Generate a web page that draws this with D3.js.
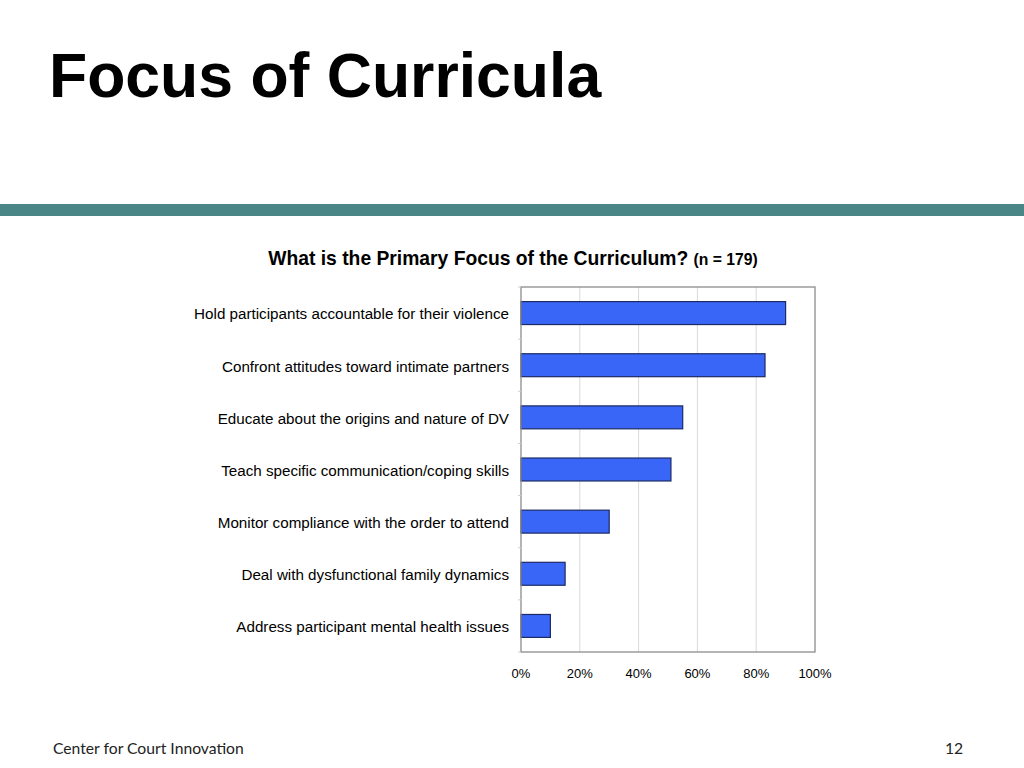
<!DOCTYPE html>
<html><head><meta charset="utf-8">
<script src="https://cdn.jsdelivr.net/npm/d3@7"></script>
<style>body{margin:0;background:#fff}svg{display:block}</style>
</head><body>
<script>
const categories = [
  "Hold participants accountable for their violence",
  "Confront attitudes toward intimate partners",
  "Educate about the origins and nature of DV",
  "Teach specific communication/coping skills",
  "Monitor compliance with the order to attend",
  "Deal with dysfunctional family dynamics",
  "Address participant mental health issues"
];
const values = [90, 83, 55, 51, 30, 15, 10];
const tickValues = [0, 20, 40, 60, 80, 100];

const svg = d3.select("body").append("svg").attr("width", 1024).attr("height", 768);
svg.append("rect").attr("width",1024).attr("height",768).attr("fill","#fff");

svg.append("text").attr("x", 49).attr("y", 97)
  .attr("font-family","Liberation Sans, Arial, sans-serif").attr("font-weight","bold")
  .attr("font-size", 62.5).attr("fill","#000").text("Focus of Curricula");

svg.append("rect").attr("x",0).attr("y",204).attr("width",1024).attr("height",12).attr("fill","#4a8686");

const t = svg.append("text").attr("x", 513).attr("y", 265).attr("text-anchor","middle")
  .attr("font-family","Liberation Sans, Arial, sans-serif").attr("font-weight","bold").attr("fill","#000");
t.append("tspan").attr("font-size", 19.3).text("What is the Primary Focus of the Curriculum? ");
t.append("tspan").attr("font-size", 15.7).text("(n = 179)");

const x0 = 521, x1 = 815, y0 = 287, y1 = 652;
const x = d3.scaleLinear().domain([0,100]).range([x0,x1]);
const y = d3.scaleBand().domain(categories).range([y0,y1]).paddingInner(0.56).paddingOuter(0.28);

const g = svg.append("g");
g.selectAll("line.grid").data(tickValues.slice(1,-1)).join("line").attr("class","grid")
  .attr("x1",d=>x(d)).attr("x2",d=>x(d)).attr("y1",y0).attr("y2",y1)
  .attr("stroke","#d9d9d9").attr("stroke-width",1);

g.selectAll("rect.bar").data(values).join("rect").attr("class","bar")
  .attr("x", x(0)).attr("y",(d,i)=>y(categories[i]))
  .attr("width", d=>x(d)-x(0)).attr("height", y.bandwidth())
  .attr("fill","#3a66f7").attr("stroke","#1c2a66").attr("stroke-width",1.2);

g.append("rect").attr("x",x0).attr("y",y0).attr("width",x1-x0).attr("height",y1-y0)
  .attr("fill","none").attr("stroke","#8c8c8c").attr("stroke-width",1.3);

const step = (y1-y0)/categories.length;
g.selectAll("line.yt").data(d3.range(categories.length+1)).join("line").attr("class","yt")
  .attr("x1",x0-3).attr("x2",x0).attr("y1",d=>y0+d*step).attr("y2",d=>y0+d*step)
  .attr("stroke","#cfcfcf");

g.selectAll("text.cat").data(categories).join("text").attr("class","cat")
  .attr("x", 509).attr("y", d=>y(d)+y.bandwidth()/2+1).attr("dy","0.35em")
  .attr("text-anchor","end").attr("font-family","Liberation Sans, Arial, sans-serif")
  .attr("font-size",15.2).attr("fill","#000").text(d=>d);

g.selectAll("text.tick").data(tickValues).join("text").attr("class","tick")
  .attr("x", d=>x(d)).attr("y", 678).attr("text-anchor","middle")
  .attr("font-family","Liberation Sans, Arial, sans-serif").attr("font-size",13).attr("fill","#000")
  .text(d=>d+"%");

svg.append("text").attr("x",53).attr("y",753.5).attr("font-family","Lato, Open Sans, sans-serif")
  .attr("font-size",15.7).attr("fill","#222").text("Center for Court Innovation");
svg.append("text").attr("x",954).attr("y",753.5).attr("text-anchor","middle").attr("font-family","Lato, Open Sans, sans-serif")
  .attr("font-size",15.7).attr("fill","#222").text("12");
</script>
</body></html>
